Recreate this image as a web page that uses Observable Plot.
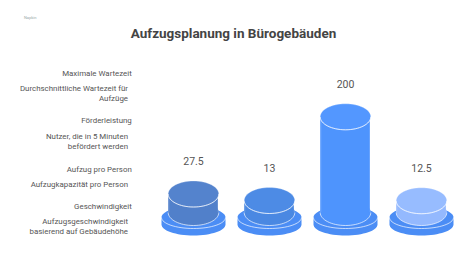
<!DOCTYPE html>
<html>
<head>
<meta charset="utf-8">
<script src="https://cdn.jsdelivr.net/npm/d3@7"></script>
<script src="https://cdn.jsdelivr.net/npm/@observablehq/plot@0.6"></script>
<style>
  html, body { margin: 0; padding: 0; background: #fff; }
  #wrap { position: relative; width: 467px; height: 276px; overflow: hidden; font-family: Roboto, "Noto Sans", sans-serif; }
  #chart { position: absolute; left: 0; top: 0; }
  .title { position: absolute; left: 0; width: 467px; top: 24px; text-align: center; font-size: 13.5px; font-weight: 700; color: #444; line-height: 18px; }
  .logo { position: absolute; left: 24px; top: 15px; font-size: 4px; color: #9aa; line-height: 5px; }
  .lab { position: absolute; text-align: right; font-size: 7.9px; color: #555; line-height: 10px; white-space: nowrap; }
</style>
</head>
<body>
<div id="wrap">
  <div id="chart"></div>
  <div class="logo">Napkin</div>
  <div class="title" id="title"></div>
</div>
<script>
// ---- data ----
const title = "Aufzugsplanung in Bürogebäuden";
const categories = ["Maximale Wartezeit", "Förderleistung", "Aufzug pro Person", "Geschwindigkeit"];
const descriptionLines = [
  ["Durchschnittliche Wartezeit für", "Aufzüge"],
  ["Nutzer, die in 5 Minuten", "befördert werden"],
  ["Aufzugkapazität pro Person"],
  ["Aufzugsgeschwindigkeit", "basierend auf Gebäudehöhe"]
];
const values = [27.5, 13, 200, 12.5];
const valueLabels = ["27.5", "13", "200", "12.5"];
const bodyColors = ["#5180ca", "#4a88e2", "#4e94fd", "#94b9fe"];
const topColors = ["#5483cd", "#4d8be5", "#5397ff", "#97bcff"];
const baseColor = "#4b8df5";

// ---- layout helpers ----
const groundValue = -13.8; // value at the foot of each cylinder body
const data = categories.map((c, i) => ({
  category: c, value: values[i], label: valueLabels[i],
  bodyColor: bodyColors[i], topColor: topColors[i], ground: groundValue
}));

const K = 0.5523;
function ellipsePath(ctx, rx, ry, cy = 0) {
  ctx.moveTo(rx, cy);
  ctx.bezierCurveTo(rx, cy + K * ry, K * rx, cy + ry, 0, cy + ry);
  ctx.bezierCurveTo(-K * rx, cy + ry, -rx, cy + K * ry, -rx, cy);
  ctx.bezierCurveTo(-rx, cy - K * ry, -K * rx, cy - ry, 0, cy - ry);
  ctx.bezierCurveTo(K * rx, cy - ry, rx, cy - K * ry, rx, cy);
  ctx.closePath();
}
function lowerArc(ctx, rx, ry, cy = 0) {
  ctx.moveTo(rx, cy);
  ctx.bezierCurveTo(rx, cy + K * ry, K * rx, cy + ry, 0, cy + ry);
  ctx.bezierCurveTo(-K * rx, cy + ry, -rx, cy + K * ry, -rx, cy);
}
const BODY_RX = 25.3, BODY_RY = 13, BASE_RX = 32, BASE_RY = 11, BASE_T = 7;
const bodyEllipse = { draw(ctx) { ellipsePath(ctx, BODY_RX, BODY_RY); } };
const bodyArc = { draw(ctx) { lowerArc(ctx, BODY_RX, BODY_RY); } };
const baseDisk = { draw(ctx) {
  ctx.moveTo(-BASE_RX, 0);
  ctx.bezierCurveTo(-BASE_RX, -K * BASE_RY, -K * BASE_RX, -BASE_RY, 0, -BASE_RY);
  ctx.bezierCurveTo(K * BASE_RX, -BASE_RY, BASE_RX, -K * BASE_RY, BASE_RX, 0);
  ctx.lineTo(BASE_RX, BASE_T);
  ctx.bezierCurveTo(BASE_RX, BASE_T + K * BASE_RY, K * BASE_RX, BASE_T + BASE_RY, 0, BASE_T + BASE_RY);
  ctx.bezierCurveTo(-K * BASE_RX, BASE_T + BASE_RY, -BASE_RX, BASE_T + K * BASE_RY, -BASE_RX, BASE_T);
  ctx.closePath();
} };
const baseArc = { draw(ctx) { lowerArc(ctx, BASE_RX, BASE_RY); } };

const bandwidth = 76.8;
const inset = (bandwidth - 2 * BODY_RX) / 2;

const plot = Plot.plot({
  width: 467,
  height: 276,
  margin: 0,
  style: { background: "transparent", fontFamily: "Roboto, sans-serif", overflow: "visible" },
  x: { type: "band", domain: categories, range: [153.1, 153.1 + 4 * bandwidth], padding: 0, axis: null },
  y: { type: "linear", domain: [groundValue, 200], range: [212, 116.3], axis: null },
  marks: [
    // base disk
    Plot.dot(data, { x: "category", y: "ground", dy: 5, symbol: baseDisk, fill: baseColor, stroke: "none" }),
    Plot.dot(data, { x: "category", y: "ground", dy: 5, symbol: baseArc, fill: "none", stroke: "#ffffff", strokeWidth: 0.8, strokeOpacity: 0.85 }),
    // body bottom
    Plot.dot(data, { x: "category", y: "ground", symbol: bodyEllipse, fill: "bodyColor", stroke: "none" }),
    Plot.dot(data, { x: "category", y: "ground", symbol: bodyArc, fill: "none", stroke: "#ffffff", strokeWidth: 0.8, strokeOpacity: 0.85 }),
    // body side
    Plot.barY(data, { x: "category", y1: "ground", y2: "value", fill: "bodyColor", insetLeft: inset, insetRight: inset }),
    Plot.ruleX(data, { x: "category", y1: "ground", y2: "value", dx: -BODY_RX + 0.6, stroke: "#ffffff", strokeOpacity: 0.35, strokeWidth: 0.6 }),
    Plot.ruleX(data, { x: "category", y1: "ground", y2: "value", dx: BODY_RX - 0.6, stroke: "#ffffff", strokeOpacity: 0.35, strokeWidth: 0.6 }),
    // body top
    Plot.dot(data, { x: "category", y: "value", symbol: bodyEllipse, fill: "topColor", stroke: "#ffffff", strokeWidth: 0.6, strokeOpacity: 0.45 }),
    Plot.dot(data, { x: "category", y: "value", symbol: bodyArc, fill: "none", stroke: "#ffffff", strokeWidth: 0.8, strokeOpacity: 0.9 }),
    // value labels
    Plot.text(data, { x: "category", y: "value", dy: -32, text: "label", fill: "#555", fontSize: 10.5 })
  ]
});
document.getElementById("chart").appendChild(plot);
document.getElementById("title").textContent = title;

// left-side labels (HTML layout)
const wrap = document.getElementById("wrap");
const headingCenters = [74, 121, 169.5, 206.7];
const descStarts = [89.3, 137.3, 185, 221.7];
categories.forEach((c, i) => {
  const h = document.createElement("div");
  h.className = "lab";
  h.style.right = (467 - 131.8) + "px";
  h.style.top = (headingCenters[i] - 5) + "px";
  h.textContent = c;
  wrap.appendChild(h);
  const d = document.createElement("div");
  d.className = "lab";
  d.style.right = (467 - 128) + "px";
  d.style.top = (descStarts[i] - 5) + "px";
  d.innerHTML = descriptionLines[i].map(s => s.replace(/&/g, "&amp;").replace(/</g, "&lt;")).join("<br>");
  wrap.appendChild(d);
});
</script>
</body>
</html>
